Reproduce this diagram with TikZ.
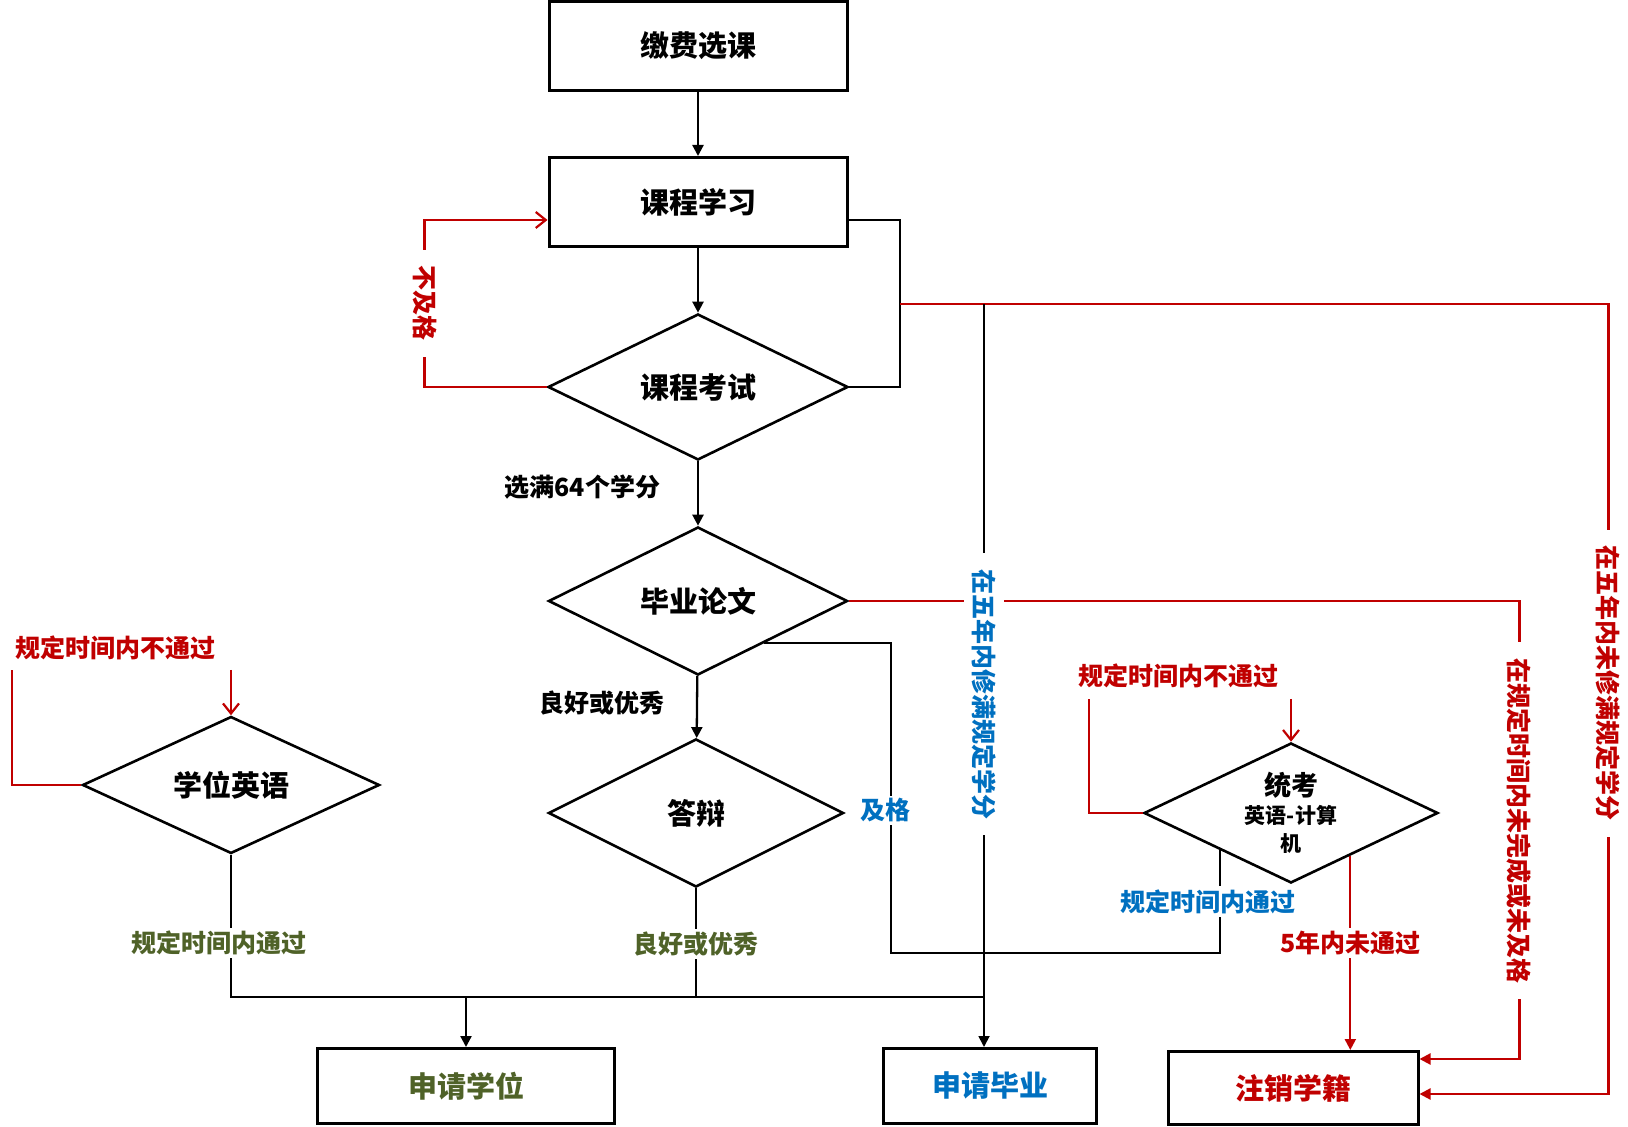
\documentclass[tikz,border=0pt]{standalone}
\usepackage{fontspec}
\setmainfont{Noto Sans CJK SC}
\usetikzlibrary{shapes.geometric, arrows.meta, calc}

\definecolor{failred}{HTML}{C00000}
\definecolor{passgreen}{HTML}{4F6228}
\definecolor{gradblue}{HTML}{0070C0}

\begin{document}
\begin{tikzpicture}[
    x=0.5pt, y=-0.5pt, >={Triangle[length=5.5pt, width=5.5pt]},
    box/.style={rectangle, draw, line width=1.5pt, minimum width=149pt, minimum height=44.5pt,
        font=\fontsize{14.5}{17}\selectfont\bfseries},
    judge/.style={diamond, draw, line width=1.3pt, inner sep=0pt, aspect=2,
        font=\fontsize{14.5}{17}\selectfont\bfseries},
    lbl/.style={fill=white, inner sep=1.5pt, font=\fontsize{12.5}{15}\selectfont\bfseries},
    vlbl/.style={lbl, rotate=-90, inner xsep=8pt, inner ysep=4pt},
    flow/.style={line width=1.15pt},
    fail/.style={line width=1.1pt, failred},
    open/.style={-{Straight Barb[length=5pt, width=8pt]}}
]
    \useasboundingbox (0,0) rectangle (1628,1127);

    % main column
    \node[box] (jfxk) at (698,46) {缴费选课};
    \node[box] (kcxx) at (698,202) {课程学习};
    \node[judge, minimum width=150pt, minimum height=73pt] (kcks) at (698,387) {课程考试};
    \node[judge, minimum width=149.5pt, minimum height=74pt] (bylw) at (698,601) {毕业论文};
    \node[judge, minimum width=147.5pt, minimum height=74pt] (db) at (696,813) {答辩};

    % side checks
    \node[judge, minimum width=148.5pt, minimum height=68.5pt] (xwyy) at (231,785) {学位英语};
    \node[judge, minimum width=147pt, minimum height=70pt, align=center,
        font=\fontsize{10.5}{14}\selectfont\bfseries] (tk) at (1291,813)
        {{\fontsize{13.5}{14}\selectfont 统考}\\英语-计算\\机};

    % results
    \node[box, minimum width=148.5pt, minimum height=37.5pt, text=passgreen] (sqxw) at (466,1086) {申请学位};
    \node[box, minimum width=106.5pt, minimum height=37.5pt, text=gradblue] (sqby) at (990,1086) {申请毕业};
    \node[box, minimum width=125pt, minimum height=36.5pt, text=failred] (zxxj) at (1293,1088) {注销学籍};

    \coordinate (loopR) at (900,304);
    \coordinate (gradTop) at (984,304);
    \coordinate (join) at (984,997);
    \coordinate (passJ) at (891,953);
    \coordinate (xwyyL) at (12,670);
    \coordinate (tkL) at (1089,699);
    \coordinate (tkR) at ($(tk.south)!0.4!(tk.east)$);

    % main flow
    \draw[flow, ->] (jfxk) -- (kcxx);
    \draw[flow, ->] (kcxx) -- (kcks);
    \draw[flow, ->] (kcks) -- node[pos=0.4, anchor=east, xshift=-15pt,
        font=\fontsize{12.5}{15}\selectfont\bfseries] {选满64个学分} (bylw);
    \draw[flow, ->] (bylw) -- node[pos=0.44, anchor=east, xshift=-12.5pt,
        font=\fontsize{12.5}{15}\selectfont\bfseries] {良好或优秀} (db);
    \draw[flow] ($(kcxx.east)+(0,18)$) -| (loopR) |- (kcks.east);

    % red loops and dropouts
    \draw[fail, open] (kcks.west) -| node[pos=0.75, vlbl, text=failred] {不及格}
        ($(kcxx.west)+(-123,18)$) -- ($(kcxx.west)+(0,18)$);
    \draw[fail, ->] (loopR) -| node[pos=0.74, vlbl, text=failred] {在五年内未修满规定学分}
        ($(zxxj.east)+(189,6)$) -- ($(zxxj.east)+(0,6)$);
    \draw[fail, ->] (bylw.east) -| node[pos=0.74, vlbl, text=failred] {在规定时间内未完成或未及格}
        ($(zxxj.east)+(100,-29)$) -- ($(zxxj.east)+(0,-29)$);

    \draw[fail] (xwyy.west) -| (xwyyL);
    \node[lbl, fill=none, text=failred] (xwyyNo) at (116,648) {规定时间内不通过};
    \draw[fail, open] (xwyy.north |- xwyyL) -- (xwyy.north);

    \draw[fail] (tk.west) -| (tkL);
    \node[lbl, fill=none, text=failred] (tkNo) at (1178,676) {规定时间内不通过};
    \draw[fail, open] (tk.north |- tkL) -- (tk.north);

    \draw[fail, ->] (tkR) -- node[pos=0.45, lbl, text=failred] {5年内未通过} (tkR |- zxxj.north);

    % graduation
    \draw[line width=0.9pt, ->] (gradTop) -- node[pos=0.525, vlbl, text=gradblue] {在五年内修满规定学分}
        (gradTop |- sqby.north);
    \draw[flow] ($(bylw.south)!0.44!(bylw.east)$) -| node[pos=0.77, lbl, text=gradblue, xshift=-3pt] {及格} (passJ)
        -| node[pos=0.75, lbl, text=gradblue, xshift=-6pt] {规定时间内通过} ($(tk.south)!0.48!(tk.west)$);

    % degree
    \draw[flow] (xwyy.south) -- node[pos=0.62, lbl, text=passgreen, xshift=-6pt] {规定时间内通过}
        (xwyy.south |- join) -- (join);
    \draw[flow] (db.south) -- node[pos=0.51, lbl, text=passgreen] {良好或优秀} (db.south |- join);
    \draw[flow, ->] (sqxw.north |- join) -- (sqxw.north);
\end{tikzpicture}
\end{document}
